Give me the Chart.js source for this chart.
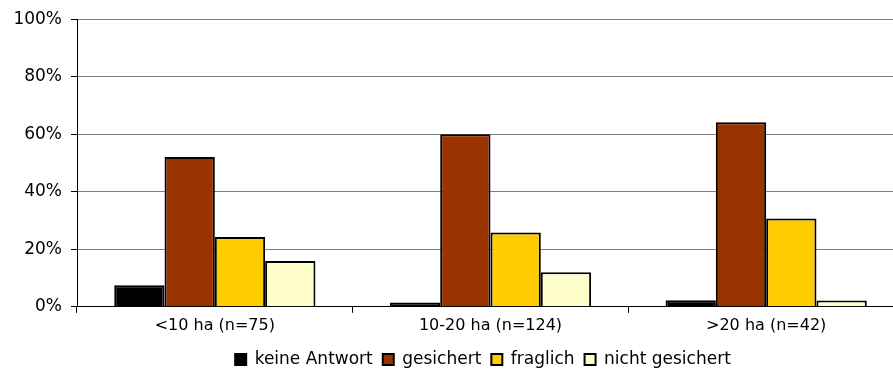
<!DOCTYPE html>
<html>
<head>
<meta charset="utf-8">
<script src="https://cdn.jsdelivr.net/npm/chart.js@4.4.1/dist/chart.umd.min.js"></script>
<style>
  html, body { margin: 0; padding: 0; background: #fff; overflow: hidden; }
  #wrap { position: relative; width: 964px; height: 378px; }
</style>
</head>
<body>
<div id="wrap"><canvas id="c"></canvas></div>
<script>
// Farm size groups (with sample size)
const categories = ['<10 ha (n=75)', '10-20 ha (n=124)', '>20 ha (n=42)'];

// Share of answers per group, in percent
const keineAntwort   = [7.5, 1.5, 2.3];
const gesichert      = [52.1, 60.0, 64.2];
const fraglich       = [24.3, 25.8, 30.7];
const nichtGesichert = [15.9, 12.0, 2.2];

const seriesNames  = ['keine Antwort', 'gesichert', 'fraglich', 'nicht gesichert'];
const seriesColors = ['#000000', '#993300', '#FFCC00', '#FFFFCC'];
const yTicks = [0, 20, 40, 60, 80, 100];

const seriesValues = [keineAntwort, gesichert, fraglich, nichtGesichert];
const FAMILY = '"DejaVu Sans", Verdana, sans-serif';

// Keep the legend centred under the visible part of the plot
const legendShift = {
  id: 'legendShift',
  afterLayout(chart) {
    const lg = chart.legend;
    if (!lg) return;
    const dx = 31;
    lg.left += dx;
    lg.right += dx;
    (lg.legendHitBoxes || []).forEach(b => { b.left += dx; });
  }
};

new Chart(document.getElementById('c'), {
  type: 'bar',
  data: {
    labels: categories,
    datasets: seriesValues.map((vals, i) => ({
      label: seriesNames[i],
      data: vals,
      backgroundColor: seriesColors[i],
      borderColor: '#000000',
      borderWidth: 2,
      borderSkipped: 'bottom',
      categoryPercentage: 0.73,
      barPercentage: 1.0
    }))
  },
  options: {
    responsive: true,
    maintainAspectRatio: false,
    animation: false,
    layout: { padding: { top: 17, right: 60, left: 0, bottom: 0 } },
    plugins: {
      tooltip: { enabled: false },
      legend: {
        position: 'bottom',
        labels: {
          font: { family: FAMILY, size: 17 },
          color: '#000',
          boxWidth: 11,
          boxHeight: 11,
          padding: 10
        }
      }
    },
    scales: {
      x: {
        afterFit: (axis) => { axis.height += 3; },
        grid: {
          drawOnChartArea: false,
          drawTicks: true,
          tickLength: 6,
          tickColor: '#000',
          offset: true
        },
        border: { color: '#000', width: 1 },
        ticks: { font: { family: FAMILY, size: 16 }, color: '#000', padding: 3, maxRotation: 0 }
      },
      y: {
        min: 0,
        max: 100,
        afterBuildTicks: (axis) => { axis.ticks = yTicks.map(v => ({ value: v })); },
        afterFit: (axis) => { axis.width = 77; },
        grid: {
          color: '#808080',
          lineWidth: 1,
          tickLength: 6,
          tickColor: '#000'
        },
        border: { color: '#000', width: 1 },
        ticks: {
          font: { family: FAMILY, size: 17 },
          color: '#000',
          padding: 9,
          callback: (v) => v + '%'
        }
      }
    }
  },
  plugins: [legendShift]
});
</script>
</body>
</html>
